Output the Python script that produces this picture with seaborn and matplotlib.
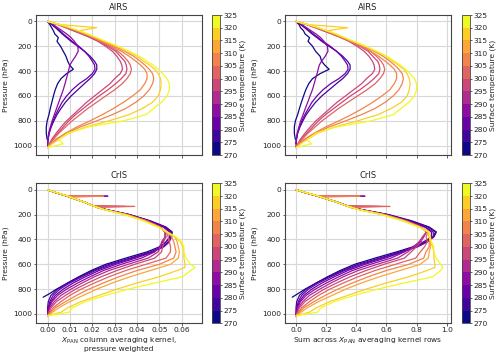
import numpy as np
import pandas as pd
import matplotlib
matplotlib.use("Agg")
import matplotlib.pyplot as plt
import seaborn as sns
from matplotlib.colors import BoundaryNorm
from matplotlib.cm import ScalarMappable

sns.set_style("white")
plt.rcParams["font.family"] = ["DejaVu Sans"]
FS = 5.4
plt.rcParams["font.size"] = FS

# ---------------- AIRS (shared pressure grid, hPa) ----------------
AIRS_P = [0, 25, 50, 75, 100, 130, 160, 200, 240, 280, 320, 350, 385, 420, 460, 500,
          550, 600, 650, 700, 750, 800, 850, 900, 950, 985, 1015]
AIRS_T = [271, 279, 283, 288, 296, 298, 301, 306, 309, 316, 322]

# left column: pressure-weighted column AK (units of 1e-3)
AIRS_K_271 = [0, 1.0, 1.8, 2.6, 3.2, 4.8, 4.2, 5.8, 7.0, 8.2, 9.0, 9.8, 11.5, 8.5, 6.0, 4.5,
              3.4, 2.6, 1.9, 1.2, 0.6, -0.2, -0.6, -0.6, -0.2, np.nan, np.nan]
AIRS_K_279 = [0, 1.8, 3.5, 5.0, 6.5, 8.5, 10.5, 13.5, 16.5, 19.0, 21.0, 22.0, 22.0, 21.0, 19.0, 16.5,
              13.5, 10.5, 8.0, 6.0, 4.2, 2.8, 1.6, 0.7, 0.2, 0.0, np.nan]
AIRS_K_283 = [0, 2.0, 3.8, 5.5, 7.0, 9.0, 11.0, 14.0, 16.5, 18.5, 20.0, 21.0, 21.2, 20.0, 17.5, 14.2,
              11.0, 8.5, 6.5, 5.0, 3.6, 2.4, 1.4, 0.6, 0.2, 0.0, np.nan]
AIRS_K_288 = [0, 2.5, 4.5, 6.5, 8.5, 10.5, 12.0, 13.5, 13.7, 12.5, 11.0, 10.0, 9.5, 9.0, 8.4, 7.8,
              7.0, 6.0, 5.0, 4.0, 3.0, 2.0, 1.2, 0.5, 0.1, 0.0, 0.0]
AIRS_K_296 = [0, 4.5, 8, 11.5, 15, 19, 22.5, 26, 29, 31, 32.5, 33.2, 33.5, 32.5, 30, 28,
              24.5, 21, 17.5, 14.5, 11.5, 8.5, 6, 3.8, 1.8, 0.8, 0]
AIRS_K_298 = [0, 4.7, 8.5, 12, 15.5, 19.5, 23, 27, 30.5, 32.5, 34.5, 35.2, 35.5, 35, 33, 30.5,
              27, 23, 19.5, 16, 12.5, 9.5, 7, 4.5, 2.3, 1, 0]
AIRS_K_301 = [0, 5, 9, 12.5, 16, 20, 23.5, 28, 31.5, 34, 36, 37, 37.5, 37, 35.5, 33.5,
              30, 26, 22, 18, 14.5, 11, 8, 5, 2.5, 1, 0]
AIRS_K_306 = [0, 5, 9, 13, 16.5, 20.5, 24, 29, 33, 36.5, 39.5, 41.5, 43.5, 44.5, 44.5, 43.5,
              41.5, 38, 34, 29.5, 24.5, 19, 13, 8, 3.5, 1.5, 0]
AIRS_K_309 = [0, 5.2, 9.5, 13.5, 17, 21, 25, 30, 34.5, 38.5, 41.5, 43.5, 45.5, 47, 47.5, 47,
              45.5, 43, 39.5, 35, 29, 22, 14.5, 8.5, 4, 1.5, 0]
AIRS_K_316 = [0, 5.5, 22, 14, 17.5, 21.5, 25.5, 31, 35.5, 40, 43, 45.5, 48, 49.5, 50.5, 50.8,
              50.5, 49.5, 47, 42.5, 36.5, 27.5, 17, 9.5, 5, 2, 0]
AIRS_K_322 = [0, 5.5, 10, 14, 18, 22, 26, 31.5, 36.5, 41, 44.5, 47, 49.5, 51.5, 53.5, 54.5,
              54.5, 53.5, 51, 47.5, 44, 34, 18, 9, 5, 7, 0]

# right column: sum across AK rows
AIRS_S_271 = [0, 0.02, 0.03, 0.05, 0.06, 0.09, 0.08, 0.11, 0.13, 0.16, 0.17, 0.19, 0.22, 0.16, 0.11, 0.085,
              0.065, 0.05, 0.036, 0.023, 0.011, -0.004, -0.011, -0.011, -0.004, np.nan, np.nan]
AIRS_S_279 = [0, 0.03, 0.057, 0.082, 0.106, 0.139, 0.171, 0.22, 0.269, 0.31, 0.342, 0.359, 0.359, 0.342, 0.31, 0.269,
              0.22, 0.171, 0.13, 0.098, 0.068, 0.046, 0.026, 0.011, 0.003, 0.0, np.nan]
AIRS_S_283 = [0, 0.033, 0.062, 0.09, 0.114, 0.147, 0.179, 0.228, 0.269, 0.302, 0.326, 0.342, 0.346, 0.326, 0.285, 0.231,
              0.179, 0.139, 0.106, 0.082, 0.059, 0.039, 0.023, 0.01, 0.003, 0.0, np.nan]
AIRS_S_288 = [0, 0.039, 0.07, 0.1, 0.132, 0.163, 0.186, 0.209, 0.212, 0.194, 0.17, 0.155, 0.147, 0.14, 0.13, 0.121,
              0.109, 0.093, 0.078, 0.062, 0.047, 0.031, 0.019, 0.008, 0.002, 0, 0]
AIRS_S_296 = [0, 0.07, 0.125, 0.179, 0.234, 0.296, 0.351, 0.406, 0.452, 0.484, 0.507, 0.518, 0.523, 0.507, 0.468, 0.437,
              0.382, 0.328, 0.273, 0.226, 0.179, 0.133, 0.094, 0.059, 0.028, 0.012, 0]
AIRS_S_298 = [0, 0.074, 0.133, 0.188, 0.243, 0.306, 0.361, 0.424, 0.479, 0.51, 0.542, 0.553, 0.557, 0.55, 0.518, 0.479,
              0.424, 0.361, 0.306, 0.251, 0.196, 0.149, 0.11, 0.071, 0.036, 0.016, 0]
AIRS_S_301 = [0, 0.079, 0.141, 0.196, 0.251, 0.314, 0.369, 0.44, 0.495, 0.534, 0.565, 0.581, 0.589, 0.581, 0.557, 0.526,
              0.471, 0.408, 0.345, 0.283, 0.228, 0.173, 0.126, 0.079, 0.039, 0.016, 0]
AIRS_S_306 = [0, 0.075, 0.135, 0.195, 0.248, 0.308, 0.36, 0.435, 0.495, 0.548, 0.593, 0.623, 0.653, 0.668, 0.668, 0.653,
              0.623, 0.57, 0.51, 0.443, 0.368, 0.285, 0.195, 0.12, 0.053, 0.023, 0]
AIRS_S_309 = [0, 0.078, 0.143, 0.203, 0.255, 0.315, 0.375, 0.45, 0.518, 0.578, 0.623, 0.653, 0.683, 0.705, 0.713, 0.705,
              0.683, 0.645, 0.593, 0.525, 0.435, 0.33, 0.218, 0.128, 0.06, 0.023, 0]
AIRS_S_316 = [0, 0.082, 0.343, 0.209, 0.261, 0.32, 0.38, 0.462, 0.529, 0.596, 0.641, 0.678, 0.715, 0.738, 0.752, 0.757,
              0.752, 0.738, 0.7, 0.633, 0.544, 0.41, 0.253, 0.142, 0.075, 0.03, 0]
AIRS_S_322 = [0, 0.081, 0.147, 0.206, 0.265, 0.323, 0.382, 0.463, 0.537, 0.603, 0.654, 0.691, 0.728, 0.757, 0.786, 0.801,
              0.801, 0.786, 0.75, 0.698, 0.647, 0.5, 0.265, 0.132, 0.074, 0.103, 0]

AIRS_K = [AIRS_K_271, AIRS_K_279, AIRS_K_283, AIRS_K_288, AIRS_K_296, AIRS_K_298,
          AIRS_K_301, AIRS_K_306, AIRS_K_309, AIRS_K_316, AIRS_K_322]
AIRS_S = [AIRS_S_271, AIRS_S_279, AIRS_S_283, AIRS_S_288, AIRS_S_296, AIRS_S_298,
          AIRS_S_301, AIRS_S_306, AIRS_S_309, AIRS_S_316, AIRS_S_322]

# ---------------- CrIS (per-curve pressure levels, hPa) ----------------
CRIS_T = [272, 276, 280, 284, 288, 292, 296, 300, 305, 310, 316, 322]

CRIS_P_STD = [0, 25, 50, 75, 100, 130, 160, 200, 250, 300, 340, 380, 420, 460, 500, 550,
              600, 650, 700, 750, 800, 850, 900, 950, 1015]
CRIS_P_272 = [0, 25, 50, 75, 100, 130, 160, 200, 250, 300, 340, 380, 420, 460, 500, 550,
              600, 650, 700, 750, 800, 840, 865]
CRIS_P_S52 = [0, 25, 48, 52, 56, 75, 100, 130, 160, 200, 250, 300, 340, 380, 420, 460, 500, 550,
              600, 650, 700, 750, 800, 850, 900, 950, 1015]
CRIS_P_S134 = [0, 25, 50, 75, 100, 128, 134, 140, 160, 200, 250, 300, 340, 380, 420, 460, 500, 550,
               600, 650, 700, 750, 800, 850, 900, 950, 1015]
CRIS_P_WARM = [0, 25, 50, 75, 100, 130, 160, 200, 250, 300, 340, 380, 420, 460, 500, 550,
               600, 625, 650, 700, 750, 800, 850, 900, 950, 985, 1015]

CRIS_K_272 = [0, 4, 8.5, 12.5, 16.5, 20.5, 26, 36.5, 45.5, 52.5, 55.5, 55, 53, 50, 44.5, 35,
              26, 19.5, 14, 9, 4, 0.5, -2.0]
CRIS_K_276 = [0, 4, 8.6, 12.6, 16.6, 20.6, 26.2, 36.8, 46, 53, 55.8, 55.5, 54, 51.5, 46, 37,
              27.5, 20.5, 14.5, 9, 4.5, 1.5, 0.3, 0, 0]
CRIS_K_280 = [0, 4, 8.5, 12.5, 16.5, 20.5, 26, 36.3, 45.3, 52.2, 55.2, 55.3, 54.5, 52, 47, 38,
              29, 21.5, 15.5, 10, 5.5, 2.5, 1, 0.3, 0]
CRIS_K_284 = [0, 4, 8.5, 12.4, 16.4, 20.4, 25.9, 36, 45, 51.8, 54.5, 54.5, 53, 51, 47.5, 39.5,
              30.5, 23, 17, 11.5, 7, 3.5, 1.5, 0.5, 0]
CRIS_K_288 = [0, 4, 8.2, 27, 9.3, 12.5, 16.5, 20.5, 26, 36, 44.5, 50.5, 52.5, 53, 51.5, 50, 48, 42,
              33, 25, 19, 13.5, 8.5, 4.5, 2, 0.7, 0]
CRIS_K_292 = [0, 4, 8.5, 12.5, 16.5, 20.5, 26, 36, 44.5, 50.5, 52.5, 52.5, 51, 50.5, 49.5, 45,
              36, 27.5, 21, 15.5, 10.5, 6, 3, 1, 0]
CRIS_K_296 = [0, 4, 8.5, 12.5, 16.5, 20.3, 35, 21.5, 25.8, 35.8, 44.5, 50.5, 52.5, 52.5, 52, 51.5, 51, 48,
              39, 31, 24, 18, 12.5, 8, 4, 1.5, 0]
CRIS_K_300 = [0, 4.1, 8.6, 12.5, 16.5, 20.3, 39, 21.5, 25.7, 35.5, 44, 50.3, 53, 54, 54.5, 55, 55, 53,
              44, 35, 27.5, 21, 15, 10, 6, 2.5, 0]
CRIS_K_305 = [0, 4.2, 8.4, 25, 9.4, 12.5, 16.5, 20.5, 25.5, 35, 43.5, 50, 53.5, 55.5, 56.5, 57, 57.5, 56.5,
              50, 40, 32, 25, 18.5, 13, 8, 3.5, 0]
CRIS_K_310 = [0, 4.2, 8.7, 12.5, 16.5, 20.5, 25.5, 35, 43.5, 50, 53.5, 57, 58, 58.5, 59, 58.5,
              55, 46, 37, 29, 22, 16, 10, 5, 0]
CRIS_K_316 = [0, 4.3, 8.8, 12.6, 16.5, 20.5, 25.3, 34.5, 43, 49.5, 53, 57, 59.5, 60.5, 61, 61,
              61.5, 61.5, 58, 50, 40, 31, 23, 15, 9, 6, 0]
CRIS_K_322 = [0, 4.3, 8.8, 12.6, 16.5, 20.5, 25.3, 34.5, 43, 49.5, 53.5, 57.5, 60, 61, 61, 62,
              64, 66, 64, 60.5, 48, 36, 26, 17, 11, 9.7, 0]

CRIS_S_272 = [0, 0.067, 0.142, 0.209, 0.276, 0.342, 0.434, 0.61, 0.76, 0.877, 0.927, 0.908, 0.848, 0.775, 0.668, 0.525,
              0.39, 0.293, 0.21, 0.135, 0.06, 0.008, -0.025]
CRIS_S_276 = [0, 0.067, 0.144, 0.21, 0.277, 0.344, 0.437, 0.615, 0.768, 0.885, 0.932, 0.916, 0.864, 0.798, 0.69, 0.555,
              0.413, 0.308, 0.218, 0.135, 0.068, 0.023, 0.005, 0, 0]
CRIS_S_280 = [0, 0.066, 0.14, 0.206, 0.272, 0.338, 0.429, 0.599, 0.747, 0.861, 0.911, 0.912, 0.872, 0.806, 0.705, 0.57,
              0.435, 0.323, 0.233, 0.15, 0.083, 0.038, 0.015, 0.005, 0]
CRIS_S_284 = [0, 0.066, 0.14, 0.205, 0.271, 0.337, 0.427, 0.594, 0.743, 0.855, 0.899, 0.899, 0.848, 0.79, 0.713, 0.593,
              0.458, 0.345, 0.255, 0.173, 0.105, 0.053, 0.023, 0.008, 0]
CRIS_S_288 = [0, 0.066, 0.135, 0.458, 0.153, 0.206, 0.272, 0.338, 0.429, 0.594, 0.734, 0.833, 0.866, 0.848, 0.824, 0.775,
              0.72, 0.63, 0.495, 0.375, 0.285, 0.203, 0.128, 0.068, 0.03, 0.011, 0]
CRIS_S_292 = [0, 0.066, 0.14, 0.206, 0.272, 0.338, 0.429, 0.594, 0.734, 0.833, 0.866, 0.84, 0.816, 0.783, 0.743, 0.675,
              0.54, 0.413, 0.315, 0.233, 0.158, 0.09, 0.045, 0.015, 0]
CRIS_S_296 = [0, 0.066, 0.14, 0.206, 0.272, 0.335, 0.56, 0.355, 0.426, 0.591, 0.734, 0.833, 0.866, 0.84, 0.832, 0.798,
              0.765, 0.72, 0.585, 0.465, 0.36, 0.27, 0.188, 0.12, 0.06, 0.023, 0]
CRIS_S_300 = [0, 0.068, 0.142, 0.206, 0.272, 0.335, 0.624, 0.355, 0.424, 0.586, 0.726, 0.83, 0.875, 0.864, 0.872, 0.853,
              0.825, 0.795, 0.66, 0.525, 0.413, 0.315, 0.225, 0.15, 0.09, 0.038, 0]
CRIS_S_305 = [0, 0.069, 0.139, 0.425, 0.155, 0.206, 0.272, 0.338, 0.421, 0.578, 0.718, 0.825, 0.883, 0.888, 0.885, 0.884,
              0.863, 0.848, 0.75, 0.6, 0.48, 0.375, 0.278, 0.195, 0.12, 0.053, 0]
CRIS_S_310 = [0, 0.069, 0.144, 0.206, 0.272, 0.338, 0.421, 0.578, 0.718, 0.825, 0.883, 0.893, 0.893, 0.893, 0.885, 0.878,
              0.825, 0.69, 0.555, 0.435, 0.33, 0.24, 0.15, 0.075, 0]
CRIS_S_316 = [0, 0.071, 0.145, 0.208, 0.272, 0.338, 0.417, 0.569, 0.71, 0.817, 0.875, 0.883, 0.893, 0.908, 0.915, 0.915,
              0.922, 0.922, 0.87, 0.75, 0.6, 0.465, 0.345, 0.225, 0.135, 0.09, 0]
CRIS_S_322 = [0, 0.071, 0.145, 0.208, 0.272, 0.338, 0.417, 0.569, 0.71, 0.817, 0.883, 0.89, 0.9, 0.915, 0.915, 0.93,
              0.96, 0.975, 0.96, 0.908, 0.72, 0.54, 0.39, 0.255, 0.165, 0.145, 0]

CRIS_PS = [CRIS_P_272, CRIS_P_STD, CRIS_P_STD, CRIS_P_STD, CRIS_P_S52, CRIS_P_STD,
           CRIS_P_S134, CRIS_P_S134, CRIS_P_S52, CRIS_P_STD, CRIS_P_WARM, CRIS_P_WARM]
CRIS_K = [CRIS_K_272, CRIS_K_276, CRIS_K_280, CRIS_K_284, CRIS_K_288, CRIS_K_292,
          CRIS_K_296, CRIS_K_300, CRIS_K_305, CRIS_K_310, CRIS_K_316, CRIS_K_322]
CRIS_S = [CRIS_S_272, CRIS_S_276, CRIS_S_280, CRIS_S_284, CRIS_S_288, CRIS_S_292,
          CRIS_S_296, CRIS_S_300, CRIS_S_305, CRIS_S_310, CRIS_S_316, CRIS_S_322]

CBAR_BOUNDS = [270, 275, 280, 285, 290, 295, 300, 305, 310, 315, 320, 325]


def frame(temps, pressures, values, scale):
    rows = []
    for i, (t, p, v) in enumerate(zip(temps, pressures, values)):
        for pp, vv in zip(p, v):
            if vv is None or (isinstance(vv, float) and np.isnan(vv)):
                continue
            rows.append({"curve": i, "T": t, "p": pp, "v": vv * scale})
    return pd.DataFrame(rows)


cmap = plt.get_cmap("plasma", len(CBAR_BOUNDS) - 1)
norm = BoundaryNorm(CBAR_BOUNDS, cmap.N)
all_T = sorted(set(AIRS_T) | set(CRIS_T))
palette = {t: cmap(int(norm(t))) for t in all_T}

df_airs_k = frame(AIRS_T, [AIRS_P] * len(AIRS_T), AIRS_K, 1e-3)
df_airs_s = frame(AIRS_T, [AIRS_P] * len(AIRS_T), AIRS_S, 1.0)
df_cris_k = frame(CRIS_T, CRIS_PS, CRIS_K, 1e-3)
df_cris_s = frame(CRIS_T, CRIS_PS, CRIS_S, 1.0)

fig = plt.figure(figsize=(5.0, 3.58), dpi=100)
W, H = 500.0, 358.0
def rect(x0, y0, x1, y1):
    return [x0 / W, 1 - y1 / H, (x1 - x0) / W, (y1 - y0) / H]

ax_tl = fig.add_axes(rect(36, 15, 202, 155))
ax_tr = fig.add_axes(rect(285, 15, 450.7, 155))
ax_bl = fig.add_axes(rect(36, 183.3, 202, 323.3))
ax_br = fig.add_axes(rect(285, 183.3, 450.7, 323.3))
cax_tl = fig.add_axes(rect(212, 15, 220, 155))
cax_tr = fig.add_axes(rect(462, 15, 470, 155))
cax_bl = fig.add_axes(rect(212, 183.3, 220, 323.3))
cax_br = fig.add_axes(rect(462, 183.3, 470, 323.3))

panels = [
    (ax_tl, df_airs_k, "AIRS", (-0.0052, 0.0691), [0, 0.01, 0.02, 0.03, 0.04, 0.05, 0.06], False),
    (ax_tr, df_airs_s, "AIRS", (-0.073, 1.027), [0, 0.2, 0.4, 0.6, 0.8, 1.0], False),
    (ax_bl, df_cris_k, "CrIS", (-0.0052, 0.0691), [0, 0.01, 0.02, 0.03, 0.04, 0.05, 0.06], True),
    (ax_br, df_cris_s, "CrIS", (-0.073, 1.027), [0, 0.2, 0.4, 0.6, 0.8, 1.0], True),
]

spine_c = "#444444"
txt_c = "#222222"
for ax, df, title, xlim, xt, show_x in panels:
    sns.lineplot(data=df, x="v", y="p", hue="T", units="curve", estimator=None,
                 sort=False, palette=palette, legend=False, lw=0.9, ax=ax)
    ax.set_xlim(*xlim)
    ax.set_ylim(1075, -52)
    ax.set_xticks(xt)
    ax.set_yticks([0, 200, 400, 600, 800, 1000])
    ax.grid(True, color="#d8d8d8", lw=0.8)
    ax.set_axisbelow(True)
    for s in ax.spines.values():
        s.set_color(spine_c)
        s.set_linewidth(0.8)
    ax.tick_params(axis="both", length=1.8, width=0.6, pad=1.2, colors=spine_c,
                   labelcolor=txt_c, labelsize=FS, bottom=True, left=True)
    ax.set_title(title, fontsize=FS + 0.6, pad=3.5, color=txt_c)
    ax.set_ylabel("Pressure (hPa)", fontsize=FS, labelpad=2.5, color=txt_c)
    if not show_x:
        ax.set_xticklabels([])
        ax.set_xlabel("")

ax_bl.set_xticklabels(["0.00", "0.01", "0.02", "0.03", "0.04", "0.05", "0.06"])
ax_br.set_xticklabels(["0.0", "0.2", "0.4", "0.6", "0.8", "1.0"])
ax_bl.set_xlabel(r"$X_{\mathrm{PAN}}$ column averaging kernel," + "\npressure weighted",
                 fontsize=FS, labelpad=1.5, color=txt_c, linespacing=1.05)
ax_br.set_xlabel(r"Sum across $X_{\mathrm{PAN}}$ averaging kernel rows",
                 fontsize=FS, labelpad=1.5, color=txt_c)

sm = ScalarMappable(norm=norm, cmap=cmap)
sm.set_array([])
for cax in (cax_tl, cax_tr, cax_bl, cax_br):
    cb = fig.colorbar(sm, cax=cax, ticks=CBAR_BOUNDS)
    cb.set_label("Surface temperature (K)", fontsize=FS, labelpad=1.5, color=txt_c)
    cb.ax.tick_params(length=1.5, width=0.6, pad=1.0, labelsize=FS, colors=spine_c,
                      labelcolor=txt_c)
    cb.outline.set_edgecolor(spine_c)
    cb.outline.set_linewidth(0.6)

fig.savefig("out.png", dpi=100)
